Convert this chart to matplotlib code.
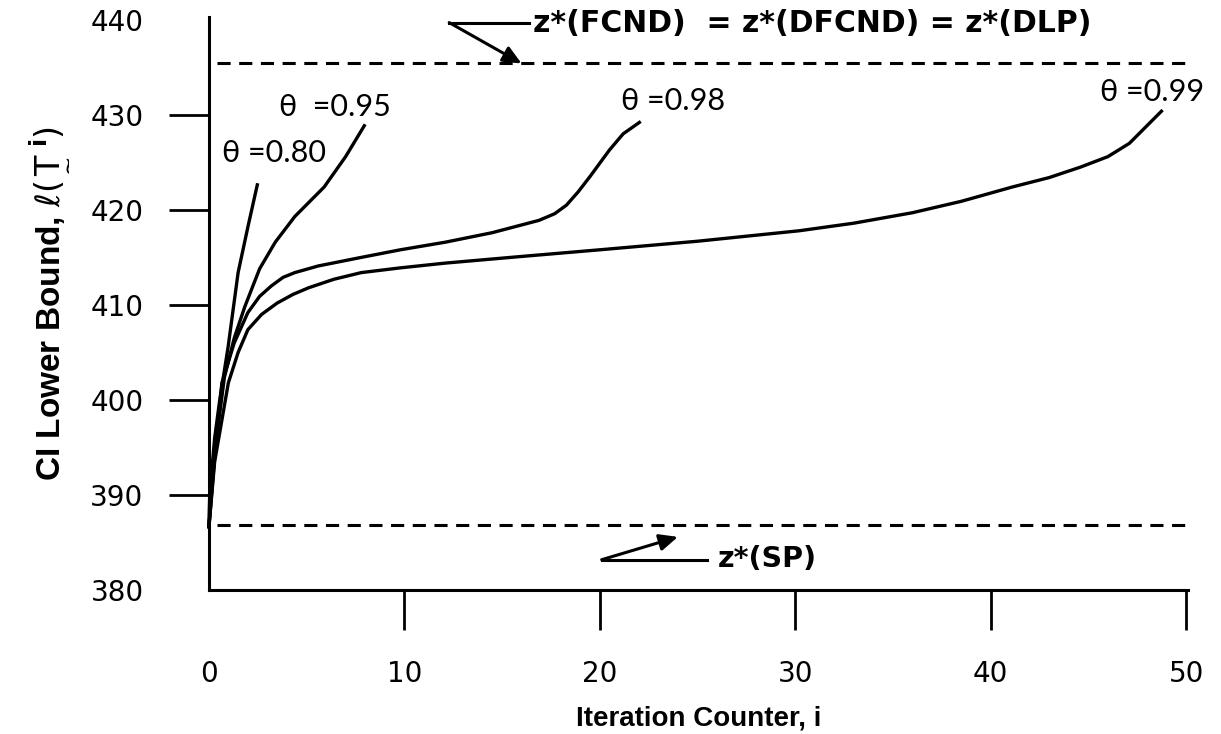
import matplotlib.pyplot as plt

# curves: iteration counter vs CI lower bound
x80 = [0, 0.05, 0.3, 0.56, 0.99, 1.5, 2.0, 2.5]
y80 = [386.5, 390.2, 396.0, 400.0, 405.6, 413.4, 418.2, 422.8]

x95 = [0, 0.3, 0.8, 1.3, 1.84, 2.6, 3.4, 4.4, 5.9, 7.0, 8.0]
y95 = [386.5, 394.5, 402.4, 406.5, 409.8, 413.8, 416.6, 419.3, 422.4, 425.6, 429.0]

x98 = [0, 0.3, 0.67, 1.3, 2.0, 2.6, 3.2, 3.8, 4.4, 5.6, 7.8, 9.8, 12.1, 14.5,
       16.9, 17.7, 18.3, 18.9, 19.5, 20.5, 21.2, 22.1]
y98 = [386.5, 394.0, 401.8, 406.0, 409.2, 410.9, 412.0, 412.9, 413.4, 414.1,
       415.0, 415.8, 416.6, 417.6, 418.9, 419.6, 420.5, 421.9, 423.5, 426.3,
       428.0, 429.3]

x99 = [0, 0.3, 1.0, 1.5, 2.0, 2.7, 3.5, 4.3, 5.1, 6.4, 7.8, 9.8, 12.1, 16.0,
       20.0, 25.0, 30.2, 33.0, 36.0, 38.5, 41.1, 43.0, 44.6, 46.0, 47.1, 48.8]
y99 = [386.5, 393.5, 401.8, 405.0, 407.4, 409.0, 410.2, 411.1, 411.8, 412.7,
       413.4, 413.9, 414.4, 415.1, 415.8, 416.7, 417.8, 418.6, 419.7, 420.9,
       422.4, 423.4, 424.5, 425.6, 427.0, 430.5]

z_fcnd = 435.5
z_sp = 386.8

xticks = [0, 10, 20, 30, 40, 50]
yticks = [380, 390, 400, 410, 420, 430, 440]

theta_labels = ["\u03b8 =0.80", "\u03b8  =0.95", "\u03b8 =0.98", "\u03b8 =0.99"]
theta_pos = [(0.7, 426.0), (3.6, 430.8), (21.1, 431.5), (45.6, 432.4)]

fig = plt.figure(figsize=(12.21, 7.34), dpi=100)
ax = fig.add_axes([0.171, 0.196, 0.802, 0.781])

lw = 2.4
for xs, ys in [(x80, y80), (x95, y95), (x98, y98), (x99, y99)]:
    ax.plot(xs, ys, color="black", lw=lw, solid_capstyle="butt",
            solid_joinstyle="round", clip_on=False)

ax.hlines([z_fcnd, z_sp], 0.4, 50.15, colors="black", lw=2.2,
          linestyles=(0, (4.3, 2.8)))

ax.set_xlim(0, 50.1)
ax.set_ylim(380, 440.3)
ax.set_xticks(xticks)
ax.set_yticks(yticks)
ax.spines["top"].set_visible(False)
ax.spines["right"].set_visible(False)
ax.spines["left"].set_linewidth(2.2)
ax.spines["bottom"].set_linewidth(2.2)
ax.tick_params(axis="x", length=29, width=2.0, pad=21, labelsize=20)
ax.tick_params(axis="y", length=29, width=2.0, pad=18, labelsize=20)
for lab in ax.get_xticklabels() + ax.get_yticklabels():
    lab.set_family("DejaVu Sans")
# no tick marks at the axis corners / top
for t in [ax.xaxis.get_major_ticks()[0], ax.yaxis.get_major_ticks()[0],
          ax.yaxis.get_major_ticks()[-1]]:
    t.tick1line.set_visible(False)

bold = dict(family=["Liberation Sans", "DejaVu Sans"], fontweight="bold")
ax.set_xlabel("Iteration Counter, i", fontsize=20, labelpad=13, **bold)
ax.set_ylabel(r"CI Lower Bound, $\ell(\underset{\sim}{\mathrm{T}}^{\,\mathbf{i}})$",
              fontsize=24, labelpad=15, **bold)

for txt, (tx, ty) in zip(theta_labels, theta_pos):
    ax.text(tx, ty, txt, fontsize=22, va="center", ha="left", color="black",
            family=["Lato", "DejaVu Sans"])

ann = dict(family=["DejaVu Sans"], fontweight="bold")
head = "-|>,head_length=1.1,head_width=0.5"

# arrow + label for the upper bound
ax.plot([12.3, 16.4], [439.7, 439.7], color="black", lw=2.2, clip_on=False)
ax.annotate("", xy=(16.0, 435.4), xytext=(12.3, 439.7),
            arrowprops=dict(arrowstyle=head, color="black", lw=2.2,
                            shrinkA=0, shrinkB=0),
            annotation_clip=False)
ax.text(16.6, 439.6, "z*(FCND)  = z*(DFCND) = z*(DLP)", fontsize=21.5,
        va="center", ha="left", **ann)

# arrow + label for the stochastic program
ax.plot([20.1, 25.5], [383.2, 383.2], color="black", lw=2.2)
ax.annotate("", xy=(24.0, 385.6), xytext=(20.1, 383.2),
            arrowprops=dict(arrowstyle=head, color="black", lw=2.2,
                            shrinkA=0, shrinkB=0))
ax.text(26.05, 383.3, "z*(SP)", fontsize=20.5, va="center", ha="left", **ann)

fig.savefig("out.png", dpi=100)
